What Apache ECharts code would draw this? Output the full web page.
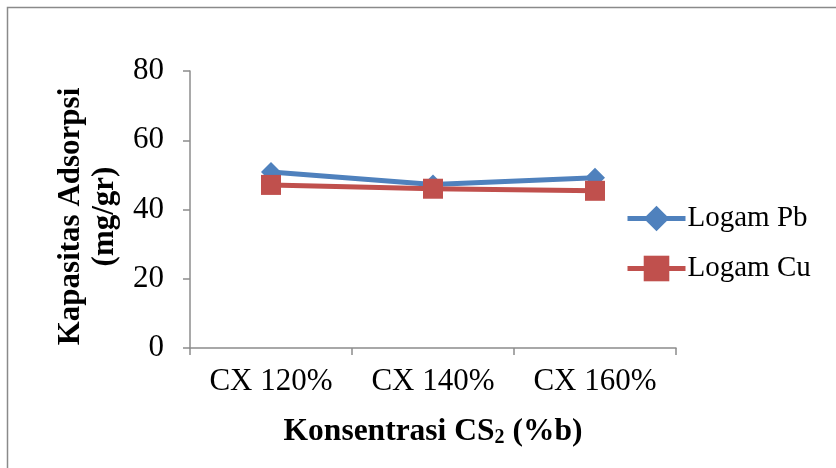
<!DOCTYPE html>
<html>
<head>
<meta charset="utf-8">
<script src="https://cdn.jsdelivr.net/npm/echarts@6/dist/echarts.min.js"></script>
<style>
  html, body { margin: 0; padding: 0; background: #fff; }
  #chart { width: 836px; height: 468px; }
</style>
</head>
<body>
<div id="chart"></div>
<script>
// Adsorption capacity per CS2 concentration
const categories = ['CX 120%', 'CX 140%', 'CX 160%'];
const pbValues = [50.8, 47.2, 49.2];
const cuValues = [47.1, 46.0, 45.4];
const yTicks = { min: 0, max: 80, interval: 20 };

const FONT = '"Liberation Serif", "Times New Roman", serif';

const chart = echarts.init(document.getElementById('chart'), null, { renderer: 'canvas' });

chart.setOption({
  animation: false,
  backgroundColor: '#ffffff',
  graphic: [{
    type: 'rect',
    shape: { x: 7.5, y: 7.5, width: 1000, height: 1000 },
    style: { fill: 'none', stroke: '#8a8a8a', lineWidth: 1.5 },
    silent: true
  }],
  grid: { left: 190, right: 160, top: 71, bottom: 120, containLabel: false },
  legend: {
    orient: 'vertical',
    left: 620,
    top: 199,
    itemWidth: 58,
    itemHeight: 32,
    itemGap: 21,
    lineStyle: { width: 5 },
    textStyle: { fontFamily: FONT, fontSize: 29, color: '#000', padding: [0, 0, 0, -3] },
    data: ['Logam Pb', 'Logam Cu']
  },
  xAxis: {
    type: 'category',
    data: categories,
    boundaryGap: true,
    axisLine: { lineStyle: { color: '#8c8c8c', width: 1.5 } },
    axisTick: { show: true, length: 7, inside: false, lineStyle: { color: '#8c8c8c', width: 1.5 } },
    axisLabel: { fontFamily: FONT, fontSize: 31, color: '#000', margin: 18 },
    name: '{b|Konsentrasi CS}{s|2}{b| (%b)}',
    nameLocation: 'middle',
    nameGap: 68,
    nameTextStyle: {
      rich: {
        b: { fontFamily: FONT, fontSize: 31.5, fontWeight: 'bold', color: '#000' },
        s: { fontFamily: FONT, fontSize: 20, fontWeight: 'bold', color: '#000', verticalAlign: 'bottom', padding: [12, 0, 0, 0] }
      }
    }
  },
  yAxis: {
    type: 'value',
    min: yTicks.min,
    max: yTicks.max,
    interval: yTicks.interval,
    splitLine: { show: false },
    axisLine: { show: true, lineStyle: { color: '#8c8c8c', width: 1.5 } },
    axisTick: { show: true, length: 7, lineStyle: { color: '#8c8c8c', width: 1.5 } },
    axisLabel: { fontFamily: FONT, fontSize: 31, color: '#000', margin: 26 },
    name: 'Kapasitas Adsorpsi\n(mg/gr)',
    nameLocation: 'middle',
    nameGap: 67,
    nameRotate: 90,
    nameTextStyle: { fontFamily: FONT, fontSize: 31, fontWeight: 'bold', color: '#000', lineHeight: 34, padding: [0, 14, 0, 0] }
  },
  series: [
    {
      name: 'Logam Pb',
      type: 'line',
      data: pbValues,
      symbol: 'diamond',
      symbolSize: 20,
      lineStyle: { color: '#4F81BD', width: 5 },
      itemStyle: { color: '#4F81BD' }
    },
    {
      name: 'Logam Cu',
      type: 'line',
      data: cuValues,
      symbol: 'rect',
      symbolSize: 20,
      lineStyle: { color: '#C0504D', width: 5 },
      itemStyle: { color: '#C0504D' }
    }
  ]
});
</script>
</body>
</html>
